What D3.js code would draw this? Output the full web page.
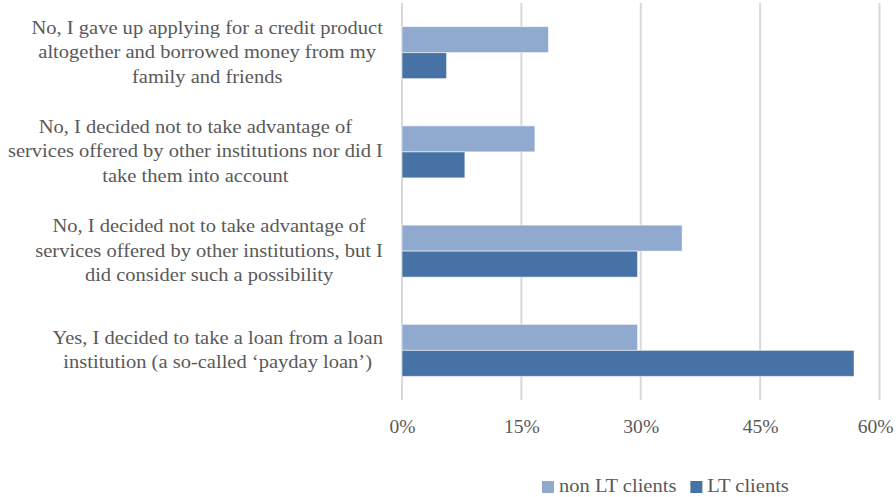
<!DOCTYPE html>
<html>
<head>
<meta charset="utf-8">
<script src="https://cdn.jsdelivr.net/npm/d3@7"></script>
<style>
  html, body { margin: 0; padding: 0; background: #fff; }
  svg { display: block; }
  text { font-family: "Book Antiqua", "Palatino Linotype", Palatino, "Liberation Serif", serif; fill: #595959; }
</style>
</head>
<body>
<svg id="chart" width="896" height="497"></svg>
<script>
// Survey answers, listed top to bottom, each split into its wrapped lines
const categories = [
  ["No, I gave up applying for a credit product", "altogether and borrowed money from my", "family and friends"],
  ["No, I decided not to take advantage of", "services offered by other institutions nor did I", "take them into account"],
  ["No, I decided not to take advantage of", "services offered by other institutions, but I", "did consider such a possibility"],
  ["Yes, I decided to take a loan from a loan", "institution (a so-called \u2018payday loan\u2019)"]
];
const seriesNames = ["non LT clients", "LT clients"];
const nonLT = [18.4, 16.7, 35.2, 29.6];
const LT = [5.6, 7.9, 29.6, 56.8];
const xTicks = [0, 15, 30, 45, 60];
const colors = ["#8FA9CF", "#4672A6"];

const width = 896;
const svg = d3.select("#chart");
const plot = { left: 402, right: 879.5, top: 3, bottom: 400 };
const fontSize = 19;
const stretch = 1.08;     // widen the serif glyphs a little
const tickStretch = 1.03;

const x = d3.scaleLinear().domain([0, 60]).range([plot.left, plot.right]);
const y = d3.scaleBand().domain(d3.range(categories.length)).range([plot.top, plot.bottom]).paddingInner(0.476).paddingOuter(0.238);
const sub = d3.scaleBand().domain(d3.range(seriesNames.length)).range([0, y.bandwidth()]);

// vertical gridlines
svg.append("g").selectAll("line").data(xTicks).join("line")
  .attr("x1", d => x(d)).attr("x2", d => x(d))
  .attr("y1", plot.top).attr("y2", plot.bottom)
  .attr("stroke", "#d9d9d9").attr("stroke-width", 2);

// bars
const values = [nonLT, LT];
const groups = svg.append("g").selectAll("g").data(categories).join("g")
  .attr("transform", (d, i) => `translate(0,${y(i)})`);
groups.selectAll("rect").data((d, i) => values.map((s, k) => ({ k, v: s[i] }))).join("rect")
  .attr("x", x(0))
  .attr("y", d => sub(d.k))
  .attr("width", d => x(d.v) - x(0))
  .attr("height", sub.bandwidth())
  .attr("fill", d => colors[d.k])
  .attr("stroke", "rgba(255,255,255,0.55)")
  .attr("stroke-width", 1);

// x axis tick labels
const xAxis = d3.axisBottom(x).tickValues(xTicks).tickFormat(d => d + "%").tickSize(0).tickPadding(0);
const ax = svg.append("g").attr("transform", `translate(0,${plot.bottom})`).call(xAxis);
ax.select(".domain").remove();
ax.attr("font-family", null).attr("font-size", null);
ax.selectAll("text").attr("font-size", fontSize).attr("dy", null).attr("y", 33)
  .style("fill", "#595959")
  .each(function(d) {
    // keep the outermost label inside the frame
    const half = this.getComputedTextLength() * tickStretch / 2;
    const shift = Math.min(0, (width - 3) - (x(d) + half));
    d3.select(this).attr("transform", `translate(${shift},0) scale(${tickStretch},1)`);
  });

// category labels: lines centered within the block, block right-aligned to the axis
const labelRight = 383;
const lineGap = 24.5;
categories.forEach((lines, i) => {
  const cy = y(i) + y.bandwidth() / 2;
  const rows = svg.append("g").selectAll("g").data(lines).join("g");
  const texts = rows.append("text")
    .attr("font-size", fontSize)
    .attr("text-anchor", "middle")
    .text(d => d);
  const maxW = d3.max(texts.nodes(), n => n.getComputedTextLength()) * stretch;
  rows.attr("transform", (d, j) =>
    `translate(${labelRight - maxW / 2},${cy + 5.5 + (j - (lines.length - 1) / 2) * lineGap}) scale(${stretch},1)`);
});

// legend
const legend = svg.append("g");
let lx = 542;
seriesNames.forEach((name, k) => {
  legend.append("rect").attr("x", lx).attr("y", 481).attr("width", 12).attr("height", 12).attr("fill", colors[k]);
  const t = legend.append("text").attr("transform", `translate(${lx + 17},492) scale(${stretch},1)`)
    .attr("font-size", fontSize).text(name);
  lx += 17 + t.node().getComputedTextLength() * stretch + 14;
});
</script>
</body>
</html>
